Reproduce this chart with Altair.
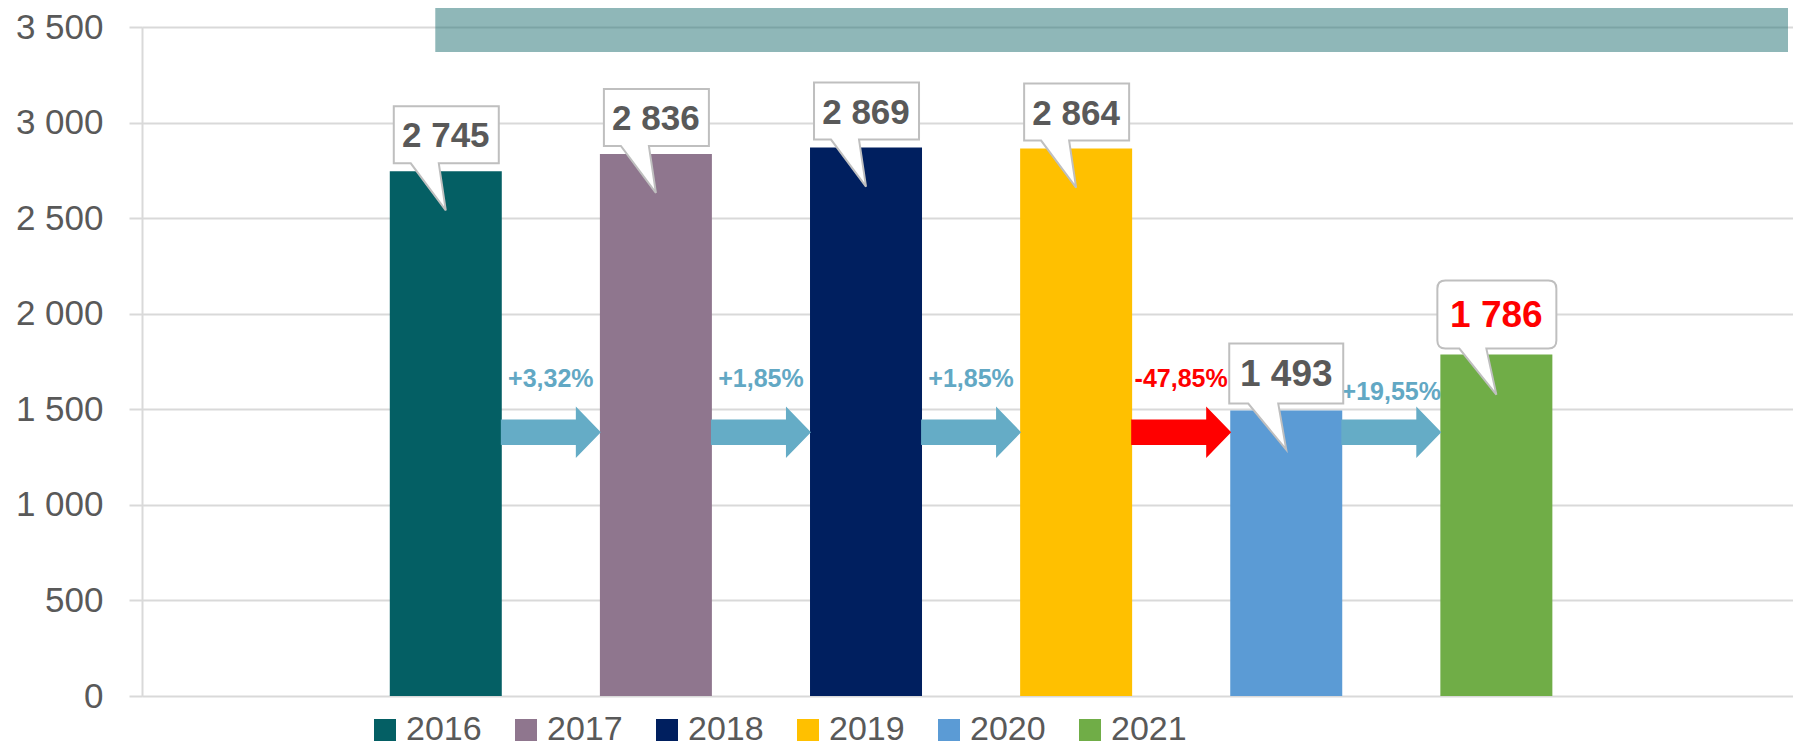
import altair as alt
import pandas as pd

# ---- data ----
YEARS = ["2016", "2017", "2018", "2019", "2020", "2021"]
VALUES = [2745, 2836, 2869, 2864, 1493, 1786]
CHANGES = ["+3,32%", "+1,85%", "+1,85%", "-47,85%", "+19,55%"]
Y_TICKS = [0, 500, 1000, 1500, 2000, 2500, 3000, 3500]
COLORS = ["#045F64", "#8F768E", "#001F5F", "#FFC000", "#5B9BD5", "#70AD47"]

ARROW_LEVEL = 1380          # vertical level of the change arrows (data units)
BAND_RANGE = [-0.05, 6.388]  # decorative band at the top (x in category units)
BAND_Y = [3369, 3600]

NARROW = "Liberation Sans Narrow, Arial Narrow, Liberation Sans, sans-serif"
WIDE = "Liberation Sans, Arial, sans-serif"
GREY_TXT = "#595959"
GRID = "#D9D9D9"
BLUE_ARROW = "#65ACC6"
RED = "#FF0000"

bars_df = pd.DataFrame({"year": YEARS, "pos": list(range(len(YEARS))), "value": VALUES})
arrows_df = pd.DataFrame({
    "i": list(range(len(CHANGES))),
    "pos": [i + 0.5 for i in range(len(CHANGES))],
    "level": [ARROW_LEVEL] * len(CHANGES),
    "label": CHANGES,
})
band_df = pd.DataFrame({"x": [BAND_RANGE[0]], "x2": [BAND_RANGE[1]], "y": [BAND_Y[0]], "y2": [BAND_Y[1]]})

X_SCALE = alt.Scale(domain=[-1.422, 6.388], nice=False, zero=False)
Y_SCALE = alt.Scale(domain=[0, 3500], nice=False, zero=True)
Y_AXIS = alt.Axis(
    values=Y_TICKS,
    labelExpr="replace(format(datum.value, ','), ',', ' ')",
    labelFont=NARROW, labelFontSize=35, labelColor=GREY_TXT, labelPadding=26,
    tickSize=13, tickColor=GRID, tickWidth=2,
    domainColor=GRID, domainWidth=2,
    gridColor=GRID, gridWidth=2, title=None,
)


def X(field):
    return alt.X(f"{field}:Q", scale=X_SCALE, axis=None)


def Y(field):
    return alt.Y(f"{field}:Q", scale=Y_SCALE, axis=Y_AXIS)


bars = alt.Chart(bars_df).mark_bar(size=112).encode(
    x=X("pos"),
    y=Y("value"),
    color=alt.Color(
        "year:N",
        scale=alt.Scale(domain=YEARS, range=COLORS),
        legend=alt.Legend(
            orient="none", legendX=226, legendY=686, direction="horizontal",
            title=None, symbolType="square", symbolSize=484, symbolStrokeWidth=0,
            labelFont=NARROW, labelFontSize=34, labelColor=GREY_TXT,
            labelOffset=4, columnPadding=27, padding=0,
        ),
    ),
)

band = alt.Chart(band_df).mark_rect(color="#1F6F71", opacity=0.5).encode(
    x=X("x"), x2="x2", y=Y("y"), y2="y2"
)

ARROW_PATH = "M -1 -0.255 L 0.5 -0.255 L 0.5 -0.515 L 1 0 L 0.5 0.515 L 0.5 0.255 L -1 0.255 Z"
neg = "indexof(datum.label, '-') === 0"

arrows = alt.Chart(arrows_df).mark_point(
    shape=ARROW_PATH, size=10000, filled=True, opacity=1, strokeWidth=0
).encode(
    x=X("pos"), y=Y("level"),
    color=alt.condition(neg, alt.value(RED), alt.value(BLUE_ARROW)),
)

pct_main = alt.Chart(arrows_df).transform_filter("datum.i < 4").mark_text(
    font=NARROW, fontWeight="bold", fontSize=25, dy=-53, baseline="middle"
).encode(
    x=X("pos"), y=Y("level"), text="label:N",
    color=alt.condition(neg, alt.value(RED), alt.value("#62A8C4")),
)
pct_last = alt.Chart(arrows_df).transform_filter("datum.i == 4").mark_text(
    font=NARROW, fontWeight="bold", fontSize=25, dy=-40, baseline="middle"
).encode(
    x=X("pos"), y=Y("level"), text="label:N",
    color=alt.condition(neg, alt.value(RED), alt.value("#62A8C4")),
)

CALLOUT_A = ("M -1.04 -1.3 L 1.06 -1.3 L 1.06 -0.16 L -0.14 -0.16 L 0 0.78 "
             "L -0.7 -0.16 L -1.04 -0.16 Z")
CALLOUT_B = ("M -1.14 -1.34 L 1.14 -1.34 L 1.14 -0.14 L -0.16 -0.14 L 0 0.78 "
             "L -0.76 -0.14 L -1.14 -0.14 Z")
CALLOUT_C = ("M -1.02 -1.48 L 1.04 -1.48 Q 1.2 -1.48 1.2 -1.32 L 1.2 -0.28 "
             "Q 1.2 -0.12 1.04 -0.12 L -0.2 -0.12 L 0 0.8 L -0.74 -0.12 L -1.02 -0.12 "
             "Q -1.18 -0.12 -1.18 -0.28 L -1.18 -1.32 Q -1.18 -1.48 -1.02 -1.48 Z")

labelled = alt.Chart(bars_df).transform_calculate(
    label="replace(format(datum.value, ','), ',', ' ')"
)


def callout(filter_expr, path):
    return labelled.transform_filter(filter_expr).mark_point(
        shape=path, size=10000, fill="white", fillOpacity=1, opacity=1,
        stroke="#BFBFBF", strokeWidth=2,
    ).encode(x=X("pos"), y=Y("value"))


def callout_text(filter_expr, font, size, color, dy):
    return labelled.transform_filter(filter_expr).mark_text(
        font=font, fontWeight="bold", fontSize=size, color=color, dy=dy, baseline="middle"
    ).encode(x=X("pos"), y=Y("value"), text="label:N")


first4 = "datum.pos < 4"
y2020 = "datum.year == '2020'"
y2021 = "datum.year == '2021'"

chart = alt.layer(
    bars, band, arrows, pct_main, pct_last,
    callout(first4, CALLOUT_A), callout(y2020, CALLOUT_B), callout(y2021, CALLOUT_C),
    callout_text(first4, NARROW, 35, GREY_TXT, -35),
    callout_text(y2020, WIDE, 37, GREY_TXT, -36),
    callout_text(y2021, WIDE, 37, RED, -39),
).properties(
    width=1651, height=669,
    autosize=alt.AutoSizeParams(type="none"),
    padding={"left": 134, "top": 19, "right": 0, "bottom": 50},
).configure_view(stroke=None).configure(background="white")

chart.save("out.html", embed_options={"renderer": "svg", "actions": False})
